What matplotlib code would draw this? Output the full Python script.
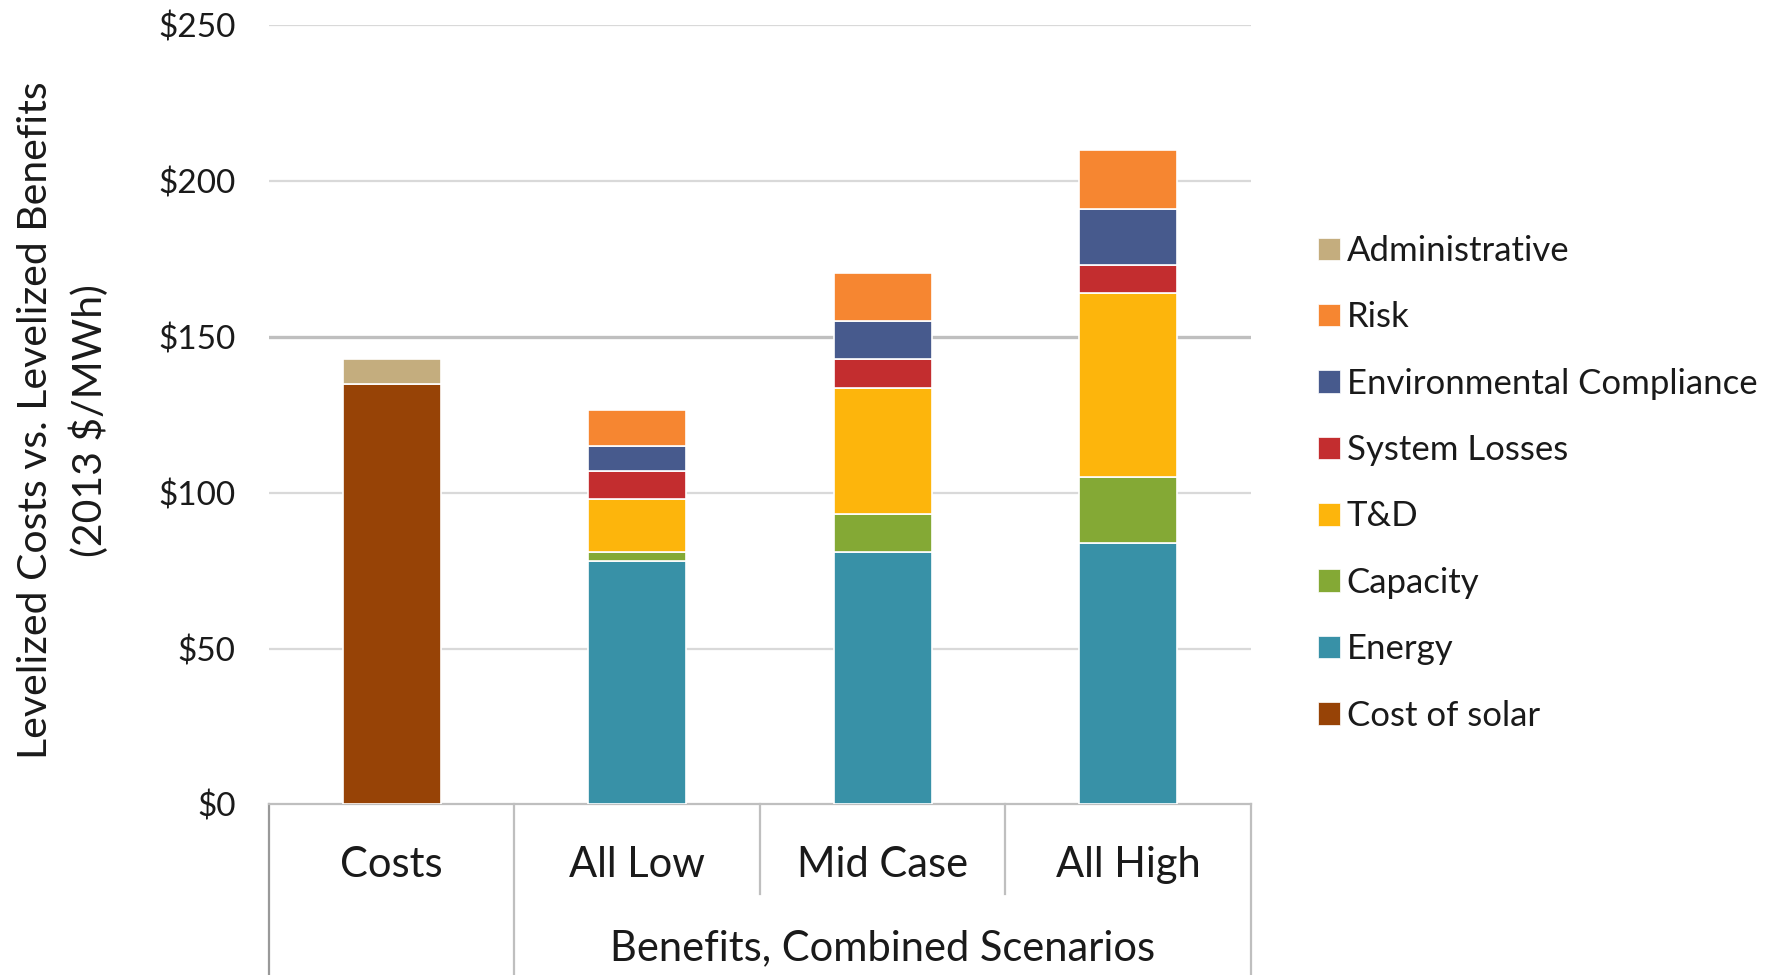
#!/usr/bin/env python3

# levelized cost of solar vs. stacked benefit components per scenario

import numpy as np
import matplotlib
matplotlib.use("Agg")
import matplotlib.pyplot as plt
from matplotlib.patches import Patch
import matplotlib.transforms as mtransforms

plt.rcParams['font.family'] = ['Lato', 'DejaVu Sans']

categories = ["Costs", "All Low", "Mid Case", "All High"]
group_label = "Benefits, Combined Scenarios"

# $/MWh, one value per category (bottom of stack first)
cost_of_solar = [135, 0, 0, 0]
energy = [0, 78, 81, 84]
capacity = [0, 3, 12, 21]
t_and_d = [0, 17, 40.7, 59]
system_losses = [0, 9, 9.3, 9]
env_compliance = [0, 8, 12, 18]
risk = [0, 11.5, 15.3, 19]
administrative = [8, 0, 0, 0]

series = [
	("Cost of solar", cost_of_solar, "#974306"),
	("Energy", energy, "#3891A7"),
	("Capacity", capacity, "#84A935"),
	("T&D", t_and_d, "#FDB50C"),
	("System Losses", system_losses, "#C32D2F"),
	("Environmental Compliance", env_compliance, "#475A8D"),
	("Risk", risk, "#F68631"),
	("Administrative", administrative, "#C4AD7E"),
]

yticks = [0, 50, 100, 150, 200, 250]
ytick_labels = ["$0", "$50", "$100", "$150", "$200", "$250"]

fig = plt.figure(figsize=(17.79, 9.75), dpi=100)
ax = fig.add_axes([0.1512, 0.1749, 0.5520, 0.7995])

x = np.arange(len(categories))
bottom = np.zeros(len(categories))
for name, vals, color in series:
	vals = np.array(vals, dtype=float)
	keep = vals > 0
	ax.bar(x[keep], vals[keep], width=0.4, bottom=bottom[keep], color=color,
		edgecolor="white", linewidth=1.2, zorder=3)
	bottom += vals

ax.set_xlim(-0.5, 3.5)
ax.set_ylim(0, 250)
ax.set_yticks(yticks)
ax.set_yticklabels(ytick_labels)
ax.tick_params(axis="y", length=0, pad=24, labelsize=24, labelcolor="#1a1a1a")
ax.set_xticks([])

for v in yticks[1:]:
	ax.axhline(v, color="#BFBFBF" if v == 150 else "#D9D9D9",
		linewidth=2.4 if v == 150 else 1.6, zorder=1)

for s in ["top", "right", "left"]:
	ax.spines[s].set_visible(False)
ax.spines["bottom"].set_color("#BFBFBF")
ax.spines["bottom"].set_linewidth(1.6)

# category separators under the axis
trans = mtransforms.blended_transform_factory(ax.transData, ax.transAxes)
for xs, ylow, col in [(-0.5, -0.219, "#999999"), (0.5, -0.219, "#BFBFBF"),
		(1.5, -0.115, "#BFBFBF"), (2.5, -0.115, "#BFBFBF"), (3.5, -0.219, "#BFBFBF")]:
	ax.plot([xs, xs], [0, ylow], transform=trans, color=col, linewidth=1.6, clip_on=False)

for xi, name in zip(x, categories):
	ax.text(xi, -0.0776, name, transform=trans, ha="center", va="center",
		fontsize=30, color="#1a1a1a")
ax.text(2, -0.184, group_label, transform=trans, ha="center", va="center",
	fontsize=30, color="#1a1a1a")

ax.set_ylabel("Levelized Costs vs. Levelized Benefits\n(2013 $/MWh)",
	fontsize=29.5, color="#1a1a1a", linespacing=1.46)
ax.yaxis.set_label_coords(-0.163, 0.493)

handles = [Patch(facecolor=c, edgecolor="white", linewidth=0.5, label=n) for n, v, c in series][::-1]
fig.legend(handles=handles, loc="upper left", bbox_to_anchor=(0.741, 0.759),
	frameon=False, fontsize=25, handlelength=0.62, handleheight=0.62,
	handletextpad=0.2, labelspacing=0.99, borderpad=0, borderaxespad=0,
	labelcolor="#1a1a1a")

plt.savefig("out.png", dpi=100)
plt.close()
